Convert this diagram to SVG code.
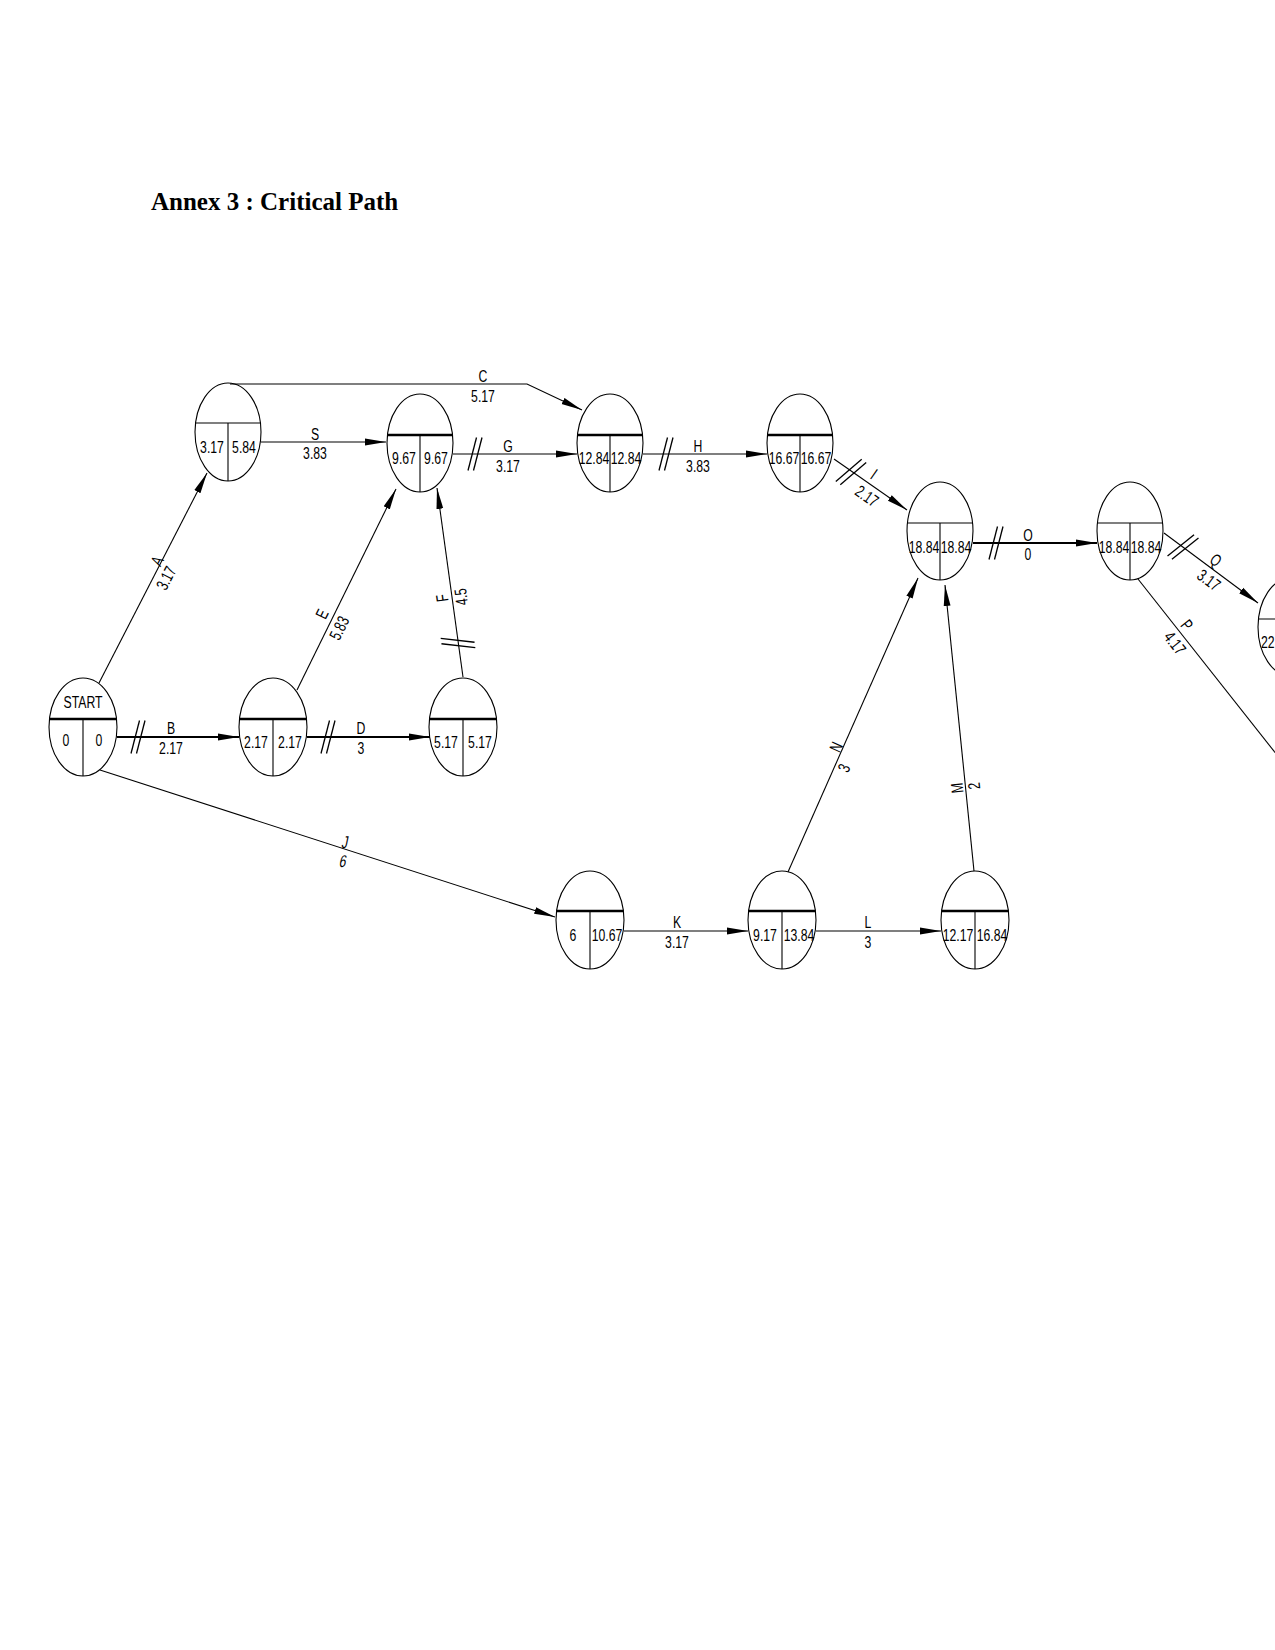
<svg xmlns="http://www.w3.org/2000/svg" xmlns:xlink="http://www.w3.org/1999/xlink" width="1275" height="1650" viewBox="0 0 1275 1650">
<style>
.bg{fill:#ffffff}
.title{font-family:"Liberation Serif",serif;font-weight:bold;font-size:25px;fill:#000}
.node ellipse{fill:none;stroke:#000;stroke-width:1.1}
.node line{stroke:#000;stroke-width:1.1}
.node line.bold{stroke-width:2.6}
.t{font-family:"Liberation Sans",Arial,sans-serif;font-size:17px;fill:#000;text-anchor:middle}
.edge{fill:none;stroke:#000;stroke-width:1.1}
.edge.crit{stroke-width:2}
.hatch line{stroke:#000;stroke-width:1.3}
</style>
<defs>
<marker id="ah" markerUnits="userSpaceOnUse" markerWidth="22" markerHeight="8" viewBox="0 0 22 8" refX="21" refY="4" orient="auto">
<path d="M0,0.6 L21,4 L0,7.4 z" fill="#000"/>
</marker>
<g id="hatch" class="hatch">
<line x1="-7" y1="16.5" x2="1.5" y2="-16.5"/>
<line x1="-1.5" y1="16.5" x2="7" y2="-16.5"/>
</g>
</defs>
<rect class="bg" x="0" y="0" width="1275" height="1650"/>
<text class="title" x="151" y="210">Annex 3 : Critical Path</text>

<g id="connectors">
<path id="e-A" class="edge" d="M99,683 L207,473" marker-end="url(#ah)"/>
<path id="e-S" class="edge" d="M261,442 L386,442" marker-end="url(#ah)"/>
<path id="e-C" class="edge" d="M230,384 L527,384 L582,410" marker-end="url(#ah)"/>
<path id="e-G" class="edge" d="M453,454 L577,454" marker-end="url(#ah)"/>
<path id="e-H" class="edge" d="M643,454 L767,454" marker-end="url(#ah)"/>
<path id="e-I" class="edge" d="M834,459 L907,510" marker-end="url(#ah)"/>
<path id="e-O" class="edge crit" d="M973,543 L1097,543" marker-end="url(#ah)"/>
<path id="e-Q" class="edge" d="M1164,533 L1258,603" marker-end="url(#ah)"/>
<path id="e-P" class="edge" d="M1138,579 L1292,774"/>
<path id="e-B" class="edge crit" d="M117,737 L239,737" marker-end="url(#ah)"/>
<path id="e-D" class="edge crit" d="M307,737 L430,737" marker-end="url(#ah)"/>
<path id="e-E" class="edge" d="M297,690 L396,489" marker-end="url(#ah)"/>
<path id="e-F" class="edge" d="M463,677 L437,488" marker-end="url(#ah)"/>
<path id="e-J" class="edge" d="M100,770 L555,917" marker-end="url(#ah)"/>
<path id="e-K" class="edge" d="M624,931 L748,931" marker-end="url(#ah)"/>
<path id="e-L" class="edge" d="M816,931 L941,931" marker-end="url(#ah)"/>
<path id="e-N" class="edge" d="M788,872 L918,578" marker-end="url(#ah)"/>
<path id="e-M" class="edge" d="M974,871 L945,585" marker-end="url(#ah)"/>

<use xlink:href="#hatch" href="#hatch" transform="translate(138,737)"/>
<use xlink:href="#hatch" href="#hatch" transform="translate(328,737)"/>
<use xlink:href="#hatch" href="#hatch" transform="translate(475,454)"/>
<use xlink:href="#hatch" href="#hatch" transform="translate(666,454)"/>
<use xlink:href="#hatch" href="#hatch" transform="translate(996,543)"/>
<use xlink:href="#hatch" href="#hatch" transform="translate(851,472) rotate(35)"/>
<use xlink:href="#hatch" href="#hatch" transform="translate(1183,547) rotate(36.7)"/>
<use xlink:href="#hatch" href="#hatch" transform="translate(458,643) rotate(-97.8)"/>

<text class="t" transform="translate(315,440) scale(0.72,1)">S</text>
<text class="t" transform="translate(315,459) scale(0.72,1)">3.83</text>
<text class="t" transform="translate(483,382) scale(0.72,1)">C</text>
<text class="t" transform="translate(483,402) scale(0.72,1)">5.17</text>
<text class="t" transform="translate(508,452) scale(0.72,1)">G</text>
<text class="t" transform="translate(508,472) scale(0.72,1)">3.17</text>
<text class="t" transform="translate(698,452) scale(0.72,1)">H</text>
<text class="t" transform="translate(698,472) scale(0.72,1)">3.83</text>
<text class="t" transform="translate(171,734) scale(0.72,1)">B</text>
<text class="t" transform="translate(171,754) scale(0.72,1)">2.17</text>
<text class="t" transform="translate(361,734) scale(0.72,1)">D</text>
<text class="t" transform="translate(361,754) scale(0.72,1)">3</text>
<text class="t" transform="translate(1028,541) scale(0.72,1)">O</text>
<text class="t" transform="translate(1028,560) scale(0.72,1)">0</text>
<text class="t" transform="translate(677,928) scale(0.72,1)">K</text>
<text class="t" transform="translate(677,948) scale(0.72,1)">3.17</text>
<text class="t" transform="translate(868,928) scale(0.72,1)">L</text>
<text class="t" transform="translate(868,948) scale(0.72,1)">3</text>
<text class="t" transform="translate(344,848) skewX(-12) scale(0.72,1)">J</text>
<text class="t" transform="translate(342,867) skewX(-12) scale(0.72,1)">6</text>

<text class="t" transform="translate(157,561) rotate(-62.8) scale(0.72,1)" y="6">A</text>
<text class="t" transform="translate(166,578) rotate(-62.8) scale(0.72,1)" y="6">3.17</text>
<text class="t" transform="translate(322,614) rotate(-63.8) scale(0.72,1)" y="6">E</text>
<text class="t" transform="translate(339,628) rotate(-63.8) scale(0.72,1)" y="6">5.83</text>
<text class="t" transform="translate(442,598) rotate(-97.8) scale(0.72,1)" y="6">F</text>
<text class="t" transform="translate(461,597) rotate(-97.8) scale(0.72,1)" y="6">4.5</text>
<text class="t" transform="translate(874,474) rotate(35) scale(0.72,1)" y="6">I</text>
<text class="t" transform="translate(867,496) rotate(35) scale(0.72,1)" y="6">2.17</text>
<text class="t" transform="translate(1216,560) rotate(36.7) scale(0.72,1)" y="6">Q</text>
<text class="t" transform="translate(1209,580) rotate(36.7) scale(0.72,1)" y="6">3.17</text>
<text class="t" transform="translate(1187,625) rotate(51.8) scale(0.72,1)" y="6">P</text>
<text class="t" transform="translate(1175,643) rotate(51.8) scale(0.72,1)" y="6">4.17</text>
<text class="t" transform="translate(836,747) rotate(-66) scale(0.72,1)" y="6">N</text>
<text class="t" transform="translate(844,768) rotate(-66) scale(0.72,1)" y="6">3</text>
<text class="t" transform="translate(957,788) rotate(-95.8) scale(0.72,1)" y="6">M</text>
<text class="t" transform="translate(974,786) rotate(-95.8) scale(0.72,1)" y="6">2</text>
</g>

<g id="n-start" class="node">
<ellipse cx="83" cy="727" rx="34" ry="49"/>
<line class="bold" x1="49.5" y1="719" x2="116.5" y2="719"/>
<line x1="83" y1="719" x2="83" y2="776"/>
<text class="t" transform="translate(83,708) scale(0.72,1)">START</text>
<text class="t" transform="translate(66,746) scale(0.72,1)">0</text>
<text class="t" transform="translate(99,746) scale(0.72,1)">0</text>
</g>

<g id="n-a" class="node">
<ellipse cx="228" cy="432" rx="33" ry="49"/>
<line x1="195.5" y1="423" x2="260.5" y2="423"/>
<line x1="228" y1="423" x2="228" y2="481"/>
<text class="t" transform="translate(212,453) scale(0.72,1)">3.17</text>
<text class="t" transform="translate(244,453) scale(0.72,1)">5.84</text>
</g>

<g id="n-b" class="node">
<ellipse cx="273" cy="727" rx="34" ry="49"/>
<line class="bold" x1="239.5" y1="719" x2="306.5" y2="719"/>
<line x1="273" y1="719" x2="273" y2="776"/>
<text class="t" transform="translate(256,748) scale(0.72,1)">2.17</text>
<text class="t" transform="translate(290,748) scale(0.72,1)">2.17</text>
</g>

<g id="n-d" class="node">
<ellipse cx="463" cy="727" rx="34" ry="49"/>
<line class="bold" x1="429.5" y1="719" x2="496.5" y2="719"/>
<line x1="463" y1="719" x2="463" y2="776"/>
<text class="t" transform="translate(446,748) scale(0.72,1)">5.17</text>
<text class="t" transform="translate(480,748) scale(0.72,1)">5.17</text>
</g>

<g id="n-s" class="node">
<ellipse cx="420" cy="443" rx="33" ry="49"/>
<line class="bold" x1="387.5" y1="435" x2="452.5" y2="435"/>
<line x1="420" y1="435" x2="420" y2="492"/>
<text class="t" transform="translate(404,464) scale(0.72,1)">9.67</text>
<text class="t" transform="translate(436,464) scale(0.72,1)">9.67</text>
</g>

<g id="n-g" class="node">
<ellipse cx="610" cy="443" rx="33" ry="49"/>
<line class="bold" x1="577.5" y1="435" x2="642.5" y2="435"/>
<line x1="610" y1="435" x2="610" y2="492"/>
<text class="t" transform="translate(594,464) scale(0.72,1)">12.84</text>
<text class="t" transform="translate(626,464) scale(0.72,1)">12.84</text>
</g>

<g id="n-h" class="node">
<ellipse cx="800" cy="443" rx="33" ry="49"/>
<line class="bold" x1="767.5" y1="435" x2="832.5" y2="435"/>
<line x1="800" y1="435" x2="800" y2="492"/>
<text class="t" transform="translate(784,464) scale(0.72,1)">16.67</text>
<text class="t" transform="translate(816,464) scale(0.72,1)">16.67</text>
</g>

<g id="n-i" class="node">
<ellipse cx="940" cy="531" rx="33" ry="49"/>
<line x1="907.5" y1="523" x2="972.5" y2="523"/>
<line x1="940" y1="523" x2="940" y2="580"/>
<text class="t" transform="translate(924,553) scale(0.72,1)">18.84</text>
<text class="t" transform="translate(956,553) scale(0.72,1)">18.84</text>
</g>

<g id="n-o" class="node">
<ellipse cx="1130" cy="531" rx="33" ry="49"/>
<line x1="1097.5" y1="523" x2="1162.5" y2="523"/>
<line x1="1130" y1="523" x2="1130" y2="580"/>
<text class="t" transform="translate(1114,553) scale(0.72,1)">18.84</text>
<text class="t" transform="translate(1146,553) scale(0.72,1)">18.84</text>
</g>

<g id="n-q" class="node">
<ellipse cx="1291" cy="627" rx="33" ry="49"/>
<line x1="1258.5" y1="619" x2="1323.5" y2="619"/>
<line x1="1291" y1="619" x2="1291" y2="676"/>
<text class="t" transform="translate(1261,648) scale(0.72,1)" style="text-anchor:start">22.</text>
</g>

<g id="n-j" class="node">
<ellipse cx="590" cy="920" rx="34" ry="49"/>
<line class="bold" x1="556.5" y1="911" x2="623.5" y2="911"/>
<line x1="590" y1="911" x2="590" y2="969"/>
<text class="t" transform="translate(573,941) scale(0.72,1)">6</text>
<text class="t" transform="translate(607,941) scale(0.72,1)">10.67</text>
</g>

<g id="n-k" class="node">
<ellipse cx="782" cy="920" rx="34" ry="49"/>
<line class="bold" x1="748.5" y1="911" x2="815.5" y2="911"/>
<line x1="782" y1="911" x2="782" y2="969"/>
<text class="t" transform="translate(765,941) scale(0.72,1)">9.17</text>
<text class="t" transform="translate(799,941) scale(0.72,1)">13.84</text>
</g>

<g id="n-l" class="node">
<ellipse cx="975" cy="920" rx="34" ry="49"/>
<line class="bold" x1="941.5" y1="911" x2="1008.5" y2="911"/>
<line x1="975" y1="911" x2="975" y2="969"/>
<text class="t" transform="translate(958,941) scale(0.72,1)">12.17</text>
<text class="t" transform="translate(992,941) scale(0.72,1)">16.84</text>
</g>
</svg>
